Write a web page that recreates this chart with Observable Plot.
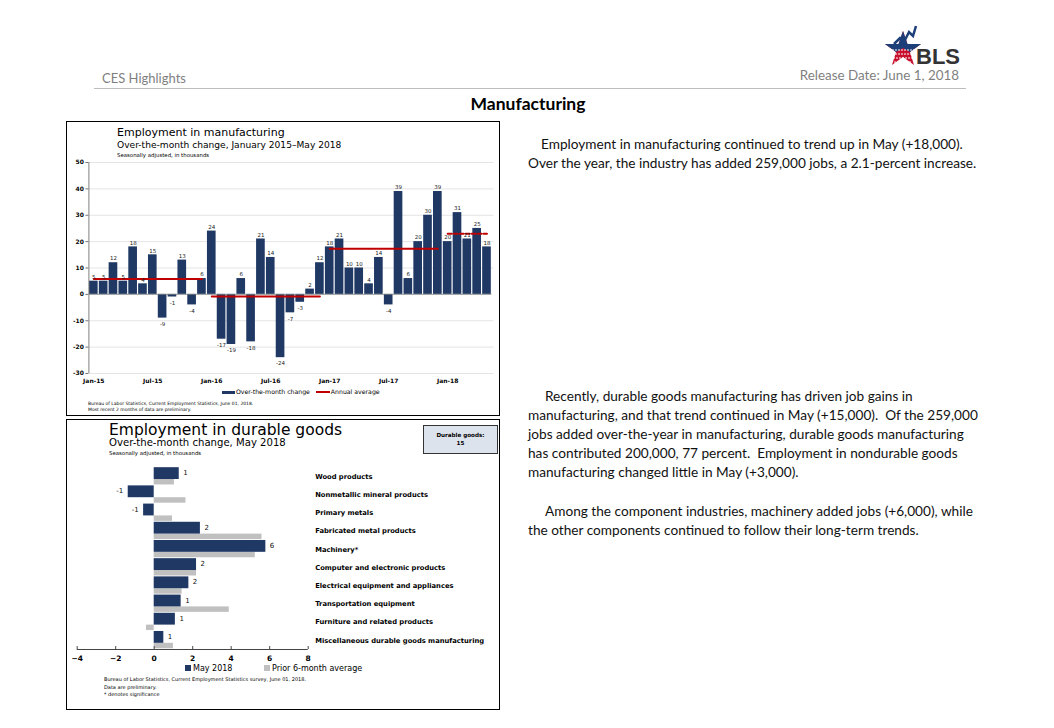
<!DOCTYPE html>
<html><head><meta charset="utf-8">
<script src="https://cdn.jsdelivr.net/npm/d3@7"></script>
<script src="https://cdn.jsdelivr.net/npm/@observablehq/plot@0.6"></script>
<style>
body{margin:0;background:#fff;}
#page{position:relative;width:1054px;height:728px;overflow:hidden;font-family:"DejaVu Sans",sans-serif;color:#000;}
.abs{position:absolute;white-space:nowrap;line-height:1;}
.box{position:absolute;border:1px solid #000;box-sizing:border-box;}
.txt{position:absolute;font-family:Lato,"Open Sans",sans-serif;font-size:13.65px;white-space:pre;line-height:1;color:#111;}
.hdr{position:absolute;font-family:Lato,sans-serif;font-size:13px;color:#7f7f7f;white-space:nowrap;line-height:1;}
svg{overflow:visible}
</style></head>
<body><div id="page">
<!-- header -->
<div class="hdr" style="left:102px;top:72px;">CES Highlights</div>
<div class="hdr" style="left:790px;top:69px;width:169px;text-align:right;font-size:13.4px;">Release Date: June 1, 2018</div>
<div style="position:absolute;left:94px;top:88px;width:872px;height:1px;background:#bdbdbd;"></div>
<svg style="position:absolute;left:880px;top:18px;" width="85" height="50">
  <polygon points="23,13 27.5,26 41,26 30,34 34,47 23,39 12,47 16,34 5,26 18.5,26" fill="#c8102e"/>
  <polygon points="23,13 27.5,26 41,26 30,34 23,30 16,34 5,26 18.5,26" fill="#1c3f7a"/>
  <path d="M14,26 L20,20 L24,24 L29,14 L33,18 L36,8" fill="none" stroke="#1c3f7a" stroke-width="2.5"/>
  <path d="M12,32 H34 M12,36 H31 M13,40 H33 M14,44 H32" stroke="#fff" stroke-width="1" stroke-dasharray="2,1"/>
  <text x="36" y="46" font-family="Liberation Sans" font-weight="bold" font-size="22" fill="#333">BLS</text>
</svg>
<div class="abs" style="left:0;width:1056px;text-align:center;top:95px;font-family:Lato,sans-serif;font-weight:bold;font-size:17.5px;">Manufacturing</div>

<!-- top chart box -->
<div class="box" style="left:66px;top:121px;width:434px;height:295px;"></div>
<div class="abs" style="left:117px;top:127px;font-size:11px;">Employment in manufacturing</div>
<div class="abs" style="left:117px;top:141px;font-size:9.1px;">Over-the-month change, January 2015–May 2018</div>
<div class="abs" style="left:117px;top:153px;font-size:5.4px;">Seasonally adjusted, in thousands</div>
<div id="chart1" style="position:absolute;left:66px;top:150px;"></div>
<div class="abs" style="left:222px;top:389px;font-size:6.2px;"><span style="display:inline-block;width:13px;height:3px;background:#1f3864;vertical-align:middle;margin-right:1px;"></span>Over-the-month change&nbsp;&nbsp;&nbsp;<span style="display:inline-block;width:14px;height:2px;background:#c00000;vertical-align:middle;margin-right:1px;"></span>Annual average</div>
<div class="abs" style="left:88px;top:401px;font-size:4.5px;line-height:6px;">Bureau of Labor Statistics, Current Employment Statistics, June 01, 2018.<br>Most recent 2 months of data are preliminary.</div>

<!-- bottom chart box -->
<div class="box" style="left:66px;top:419px;width:434px;height:291px;"></div>
<div class="abs" style="left:109px;top:423px;font-size:15.5px;">Employment in durable goods</div>
<div class="abs" style="left:109px;top:438px;font-size:10.1px;">Over-the-month change, May 2018</div>
<div class="abs" style="left:109px;top:451px;font-size:5.4px;">Seasonally adjusted, in thousands</div>
<div style="position:absolute;left:423px;top:425px;width:75px;height:29px;background:#dde3ec;border:1px solid #333;box-sizing:border-box;"></div>
<div id="dgbox" class="abs" style="left:423px;top:431px;width:75px;text-align:center;font-size:5.6px;font-weight:bold;line-height:8px;"></div>
<div id="chart2" style="position:absolute;left:66px;top:460px;"></div>
<div class="abs" style="left:185px;top:665px;font-size:8px;"><span style="display:inline-block;width:6px;height:6px;background:#1f3864;margin-right:2px;"></span>May 2018</div>
<div class="abs" style="left:264px;top:665px;font-size:8px;"><span style="display:inline-block;width:6px;height:6px;background:#c0c0c0;margin-right:2px;"></span>Prior 6-month average</div>
<div class="abs" style="left:104px;top:676px;font-size:5px;line-height:7.5px;">Bureau of Labor Statistics, Current Employment Statistics survey, June 01, 2018.<br>Data are preliminary.<br>* denotes significance</div>

<!-- right text -->
<div class="txt" style="left:541px;top:138px;">Employment in manufacturing continued to trend up in May (+18,000).</div>
<div class="txt" style="left:528px;top:157px;">Over the year, the industry has added 259,000 jobs, a 2.1-percent increase.</div>
<div class="txt" style="left:545px;top:390px;">Recently, durable goods manufacturing has driven job gains in</div>
<div class="txt" style="left:528px;top:409px;">manufacturing, and that trend continued in May (+15,000).  Of the 259,000</div>
<div class="txt" style="left:528px;top:428px;">jobs added over-the-year in manufacturing, durable goods manufacturing</div>
<div class="txt" style="left:528px;top:447px;">has contributed 200,000, 77 percent.  Employment in nondurable goods</div>
<div class="txt" style="left:528px;top:466px;">manufacturing changed little in May (+3,000).</div>
<div class="txt" style="left:545px;top:505px;">Among the component industries, machinery added jobs (+6,000), while</div>
<div class="txt" style="left:528px;top:524px;">the other components continued to follow their long-term trends.</div>
</div>
<script>
// ---------- DATA: chart 1 ----------
const years = [2015, 2016, 2017, 2018];
const monthNames = ["Jan","Feb","Mar","Apr","May","Jun","Jul","Aug","Sep","Oct","Nov","Dec"];
const monthChange = [5,5,12,5,18,4,15,-9,-1,13,-4,6,
  24,-17,-19,6,-18,21,14,-24,-7,-3,2,12,
  18,21,10,10,4,14,-4,39,6,20,30,39,
  20,31,21,25,18];
const annualAverage = [5.8, -0.8, 17.3, 23.0];
const xTickLabels = ["Jan-15","Jul-15","Jan-16","Jul-16","Jan-17","Jul-17","Jan-18"];
const yTicks1 = [-30,-20,-10,0,10,20,30,40,50];

// ---------- DATA: chart 2 ----------
const industries = ["Wood products","Nonmetallic mineral products","Primary metals","Fabricated metal products","Machinery*","Computer and electronic products","Electrical equipment and appliances","Transportation equipment","Furniture and related products","Miscellaneous durable goods manufacturing"];
const may2018 = [1.3, -1.35, -0.55, 2.4, 5.8, 2.2, 1.8, 1.4, 1.1, 0.5];
const may2018Labels = ["1","-1","-1","2","6","2","2","1","1","1"];
const prior6Avg = [1.05, 1.65, 0.95, 5.6, 5.25, 2.2, 1.45, 3.9, -0.4, 1.0];
const xTicks2 = [-4,-2,0,2,4,6,8];
const durableTotal = 15;

const navy = "#1f3864", red = "#c00000", grey = "#c0c0c0";

// ---------- chart 1 ----------
const months = monthChange.map((v, i) => ({
  i, v, year: years[Math.floor(i / 12)], label: monthNames[i % 12] + "-" + String(years[Math.floor(i / 12)]).slice(2)
}));
const avgPts = [];
years.forEach((y, k) => {
  const ms = months.filter(m => m.year === y);
  avgPts.push({i: ms[0].i, a: annualAverage[k], year: y});
  avgPts.push({i: ms[ms.length - 1].i, a: annualAverage[k], year: y});
});
const tickIdx = xTickLabels.map(l => months.find(m => m.label === l).i);

const chart1 = Plot.plot({
  width: 434, height: 240,
  marginLeft: 22.4, marginRight: 8.6, marginTop: 12, marginBottom: 17,
  style: {fontFamily: "DejaVu Sans", fontSize: "6px", background: "transparent", color: "#000"},
  x: {domain: [-0.5, monthChange.length - 0.5], axis: null},
  y: {domain: [-30, 50], axis: null},
  marks: [
    Plot.ruleY(yTicks1.filter(t => t !== 0), {x1: -0.5, x2: monthChange.length - 0.3, stroke: "#d9d9d9", strokeWidth: 0.7}),
    Plot.axisY({ticks: yTicks1, tickSize: 3, tickPadding: 2, fontWeight: "bold", fontSize: 6, stroke: "#777", tickFormat: d => d, label: null}),
    Plot.axisX({ticks: tickIdx, tickFormat: i => months[i].label, tickSize: 0, tickPadding: 5, fontWeight: "bold", fontSize: 6, label: null}),
    Plot.rectY(months, {x1: d => d.i - 0.44, x2: d => d.i + 0.44, y: "v", fill: navy}),
    Plot.ruleY([0], {x1: -0.5, x2: monthChange.length - 0.5, stroke: "#808080", strokeWidth: 0.8}),
    Plot.ruleX([-0.5], {y1: -30, y2: 50, stroke: "#808080", strokeWidth: 1}),
    Plot.line(avgPts.filter(d => d.year !== 2018), {x: "i", y: "a", z: "year", stroke: red, strokeWidth: 2}),
    Plot.line(avgPts.filter(d => d.year === 2018), {x: "i", y: "a", z: "year", stroke: red, strokeWidth: 2, strokeDasharray: "4,2"}),
    Plot.text(months.filter(d => d.v >= 0), {x: "i", y: "v", text: "v", dy: -4, fontSize: 5.5, fill: "#222"}),
    Plot.text(months.filter(d => d.v < 0), {x: "i", y: "v", text: "v", dy: 6, fontSize: 5.5, fill: "#222"})
  ]
});
document.getElementById("chart1").append(chart1);

// ---------- chart 2 ----------
const rows = industries.map((name, i) => ({i, name, may: may2018[i], lab: may2018Labels[i], prior: prior6Avg[i]}));
const n = industries.length;
const chart2 = Plot.plot({
  width: 434, height: 210,
  marginLeft: 10.7, marginRight: 192.3, marginTop: 7, marginBottom: 21,
  style: {fontFamily: "DejaVu Sans", fontSize: "7px", background: "transparent", color: "#000"},
  x: {domain: [-4, 8], axis: null},
  y: {domain: [-0.5, n - 0.5], reverse: true, axis: null},
  marks: [
    Plot.rectX(rows, {y1: d => d.i - 0.5 + 0.66, y2: d => d.i + 0.46, x: "prior", fill: grey}),
    Plot.rectX(rows, {y1: d => d.i - 0.49, y2: d => d.i + 0.16, x: "may", fill: navy}),
    Plot.text(rows.filter(d => d.may >= 0), {x: "may", y: d => d.i - 0.2, text: "lab", dx: 4, textAnchor: "start", fontSize: 7, fill: "#111"}),
    Plot.text(rows.filter(d => d.may < 0), {x: "may", y: d => d.i - 0.2, text: "lab", dx: -5, textAnchor: "end", fontSize: 7, fill: "#111"}),
    Plot.ruleY([n - 0.5], {x1: -4, x2: 8, stroke: "#444", strokeWidth: 1}),
    Plot.ruleX(xTicks2, {y1: n - 0.5, y2: n - 0.66, stroke: "#444", strokeWidth: 1}),
    Plot.axisX({ticks: xTicks2, tickSize: 0, tickPadding: 6, fontWeight: "bold", fontSize: 7.5, label: null}),
    Plot.axisY({anchor: "right", ticks: d3.range(n), tickFormat: i => industries[i], tickSize: 0, tickPadding: 7, fontWeight: "bold", fontSize: 6.75, label: null})
  ]
});
document.getElementById("chart2").append(chart2);
document.getElementById("dgbox").innerHTML = "Durable goods:<br>" + durableTotal;
</script>
</body></html>
